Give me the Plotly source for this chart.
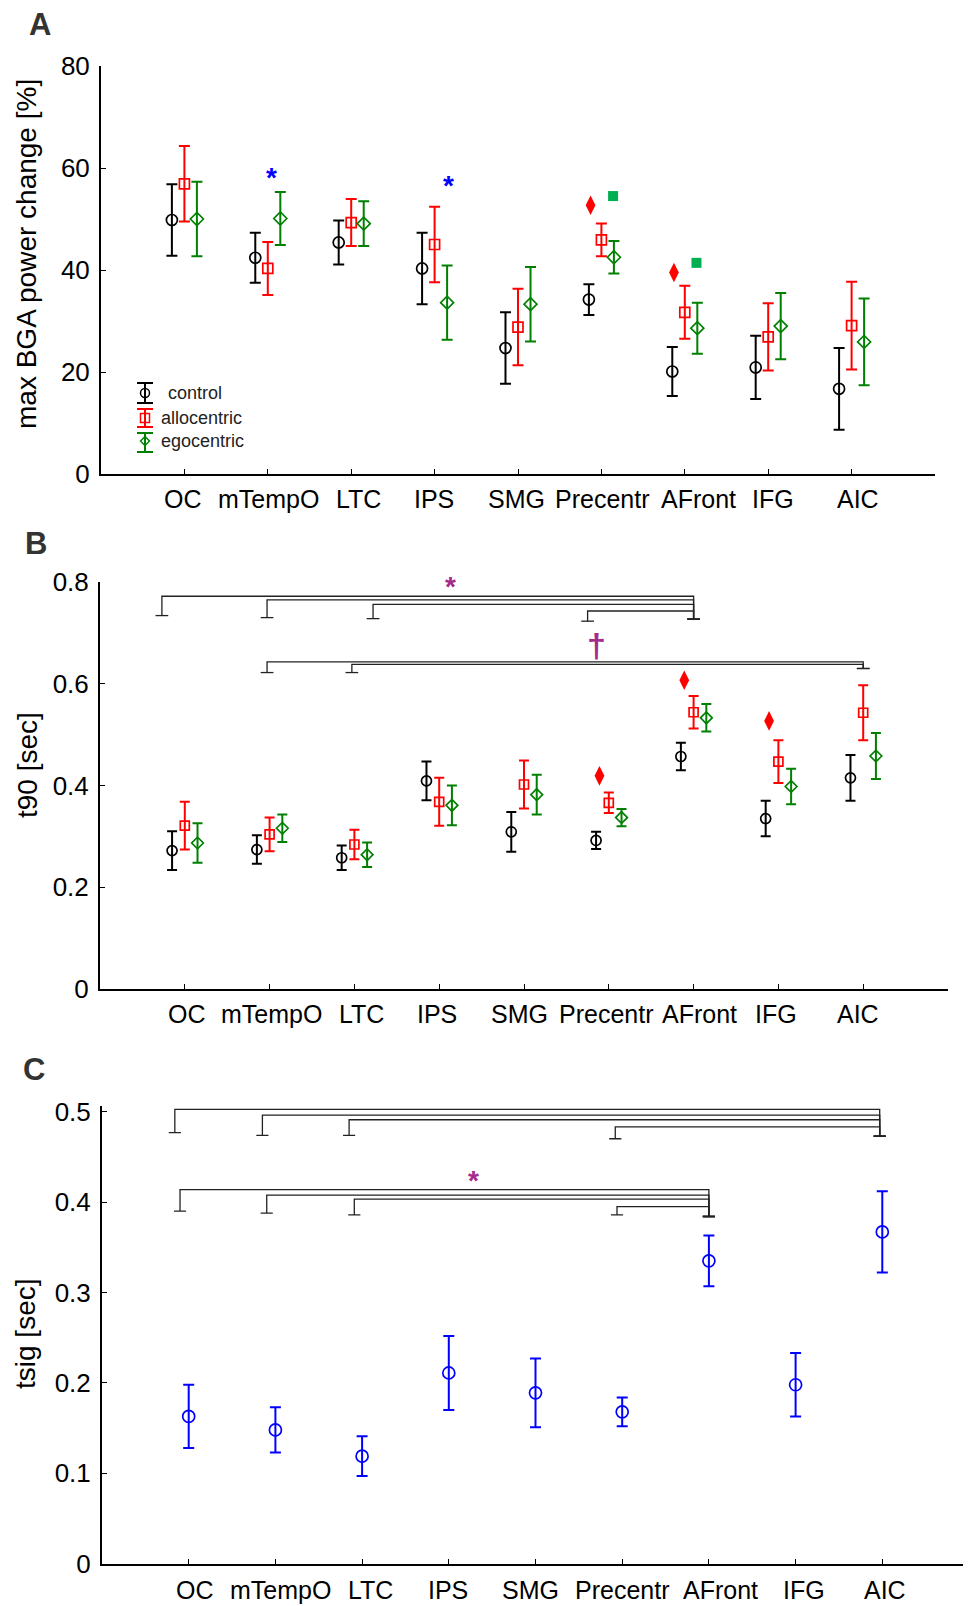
import plotly.graph_objects as go

# ---------------- data ----------------
regions = ["OC", "mTempO", "LTC", "IPS", "SMG", "Precentr", "AFront", "IFG", "AIC"]

# Panel A: max BGA power change [%]
A_control = [49.8, 42.4, 45.4, 40.3, 24.7, 34.2, 20.1, 20.9, 16.7]
A_control_err = [7.0, 4.9, 4.3, 7.0, 7.0, 3.0, 4.8, 6.2, 8.0]
A_allo = [56.9, 40.3, 49.3, 45.0, 28.8, 45.9, 31.7, 26.9, 29.1]
A_allo_err = [7.4, 5.2, 4.6, 7.4, 7.5, 3.2, 5.2, 6.6, 8.6]
A_ego = [50.0, 50.1, 49.1, 33.6, 33.3, 42.5, 28.6, 29.0, 25.9]
A_ego_err = [7.3, 5.2, 4.4, 7.3, 7.3, 3.2, 5.0, 6.5, 8.5]
A_sig_allo_regions = ["Precentr", "AFront"]
A_sig_allo_y = [52.7, 39.5]
A_sig_ego_regions = ["Precentr", "AFront"]
A_sig_ego_y = [54.5, 41.4]
A_star_regions = ["mTempO", "IPS"]
A_star_y = [59.0, 57.3]

# Panel B: t90 [sec]
B_control = [0.272, 0.274, 0.258, 0.409, 0.309, 0.292, 0.457, 0.335, 0.415]
B_control_err = [0.038, 0.028, 0.024, 0.038, 0.039, 0.017, 0.027, 0.035, 0.045]
B_allo = [0.321, 0.304, 0.284, 0.368, 0.402, 0.366, 0.544, 0.447, 0.543]
B_allo_err = [0.047, 0.033, 0.029, 0.047, 0.047, 0.020, 0.032, 0.042, 0.054]
B_ego = [0.287, 0.316, 0.264, 0.361, 0.382, 0.337, 0.533, 0.398, 0.458]
B_ego_err = [0.039, 0.027, 0.024, 0.039, 0.039, 0.017, 0.027, 0.035, 0.045]
B_sig_allo_regions = ["Precentr", "AFront", "IFG"]
B_sig_allo_y = [0.419, 0.607, 0.527]

# Panel B brackets (start regions -> end region)
B_star_starts = ["OC", "mTempO", "LTC", "Precentr"]
B_star_end = "AFront"
B_star_levels = [0.772, 0.765, 0.756, 0.743]
B_star_feet = [0.734, 0.730, 0.728, 0.723]
B_star_end_foot = 0.727
B_star_y = 0.799
B_dag_starts = ["mTempO", "LTC"]
B_dag_end = "AIC"
B_dag_levels = [0.643, 0.638]
B_dag_feet = [0.622, 0.622]
B_dag_end_foot = 0.630
B_dag_y = 0.677

# Panel C: tsig [sec]
C_vals = [0.163, 0.148, 0.119, 0.211, 0.189, 0.168, 0.335, 0.198, 0.367]
C_err = [0.035, 0.025, 0.022, 0.041, 0.038, 0.016, 0.028, 0.035, 0.045]

C_top_starts = ["OC", "mTempO", "LTC", "Precentr"]
C_top_end = "AIC"
C_top_levels = [0.5024, 0.496, 0.491, 0.483]
C_top_feet = [0.4768, 0.4736, 0.4736, 0.470]
C_top_end_foot = 0.4728
C_top_star_y = 0.515
C_low_starts = ["OC", "mTempO", "LTC", "Precentr"]
C_low_end = "AFront"
C_low_levels = [0.4138, 0.4077, 0.4033, 0.395]
C_low_feet = [0.390, 0.3878, 0.3857, 0.3857]
C_low_end_foot = 0.384
C_low_star_y = 0.4277

# ---------------- layout helpers ----------------
W, H = 955, 1606          # page body has an 8px margin
OX, OY = 8, 8
FONT = "Liberation Sans, Arial, sans-serif"
BLACK, RED, GREEN = "#000000", "#FF0000", "#008000"
SIGGREEN = "#00B050"
BLUE = "#0000FF"
MAGENTA = "#A52A8C"
BRK = "#222222"


def px(x):
    return (x - OX) / W


def py(y):
    return 1 - (y - OY) / H


def pos(name):
    return regions.index(name) + 1


xs = list(range(1, len(regions) + 1))
fig = go.Figure()


def cond_trace(vals, errs, color, symbol, off, size, capw, ax, name):
    fig.add_trace(go.Scatter(
        x=[x + off for x in xs], y=vals, mode="markers", name=name,
        xaxis=ax[0], yaxis=ax[1], showlegend=False,
        marker=dict(symbol=symbol, size=size, color=color,
                    line=dict(color=color, width=1.7)),
        error_y=dict(type="data", array=errs, visible=True, color=color,
                     thickness=2, width=capw),
    ))


OFF = 0.15
# Panel A
cond_trace(A_control, A_control_err, BLACK, "circle-open", -OFF, 11, 5.5, ("x", "y"), "control")
cond_trace(A_allo, A_allo_err, RED, "square-open", 0, 10, 5.5, ("x", "y"), "allocentric")
cond_trace(A_ego, A_ego_err, GREEN, "diamond-open", OFF, 10, 5.5, ("x", "y"), "egocentric")
# Panel B
cond_trace(B_control, B_control_err, BLACK, "circle-open", -OFF, 10, 5, ("x2", "y2"), "control")
cond_trace(B_allo, B_allo_err, RED, "square-open", 0, 9, 5, ("x2", "y2"), "allocentric")
cond_trace(B_ego, B_ego_err, GREEN, "diamond-open", OFF, 9, 5, ("x2", "y2"), "egocentric")
# Panel C
cond_trace(C_vals, C_err, BLUE, "circle-open", 0, 12, 5.5, ("x3", "y3"), "tsig")

# significance markers
fig.add_trace(go.Scatter(
    x=[pos(r) - 0.13 for r in A_sig_allo_regions], y=A_sig_allo_y, mode="markers",
    xaxis="x", yaxis="y", showlegend=False,
    marker=dict(symbol="diamond-tall", size=14, color=RED)))
fig.add_trace(go.Scatter(
    x=[pos(r) + 0.14 for r in A_sig_ego_regions], y=A_sig_ego_y, mode="markers",
    xaxis="x", yaxis="y", showlegend=False,
    marker=dict(symbol="square", size=10, color=SIGGREEN)))
fig.add_trace(go.Scatter(
    x=[pos(r) - 0.11 for r in B_sig_allo_regions], y=B_sig_allo_y, mode="markers",
    xaxis="x2", yaxis="y2", showlegend=False,
    marker=dict(symbol="diamond-tall", size=14, color=RED)))


def brackets(starts, end, levels, feet, end_foot, start_offs, end_off, fw, ax):
    xe = pos(end) + end_off
    for s, lv, ft, so in zip(starts, levels, feet, start_offs):
        xs0 = pos(s) + so
        fig.add_trace(go.Scatter(
            x=[xs0 - fw, xs0 + fw, None, xs0, xs0, xe, xe, None, xe - fw, xe + fw],
            y=[ft, ft, None, ft, lv, lv, end_foot, None, end_foot, end_foot],
            mode="lines", line=dict(color=BRK, width=1.3), showlegend=False,
            xaxis=ax[0], yaxis=ax[1], hoverinfo="skip"))


brackets(B_star_starts, B_star_end, B_star_levels, B_star_feet, B_star_end_foot,
         [-0.27, -0.03, 0.22, -0.25], 0.0, 0.075, ("x2", "y2"))
brackets(B_dag_starts, B_dag_end, B_dag_levels, B_dag_feet, B_dag_end_foot,
         [-0.03, -0.03], 0.0, 0.075, ("x2", "y2"))
brackets(C_top_starts, C_top_end, C_top_levels, C_top_feet, C_top_end_foot,
         [-0.16, -0.15, -0.15, -0.08], -0.03, 0.07, ("x3", "y3"))
brackets(C_low_starts, C_low_end, C_low_levels, C_low_feet, C_low_end_foot,
         [-0.10, -0.10, -0.09, -0.06], 0.0, 0.07, ("x3", "y3"))

# ---------------- axes ----------------
tickfont = dict(family=FONT, size=26, color="black")


def xaxis(x0, x1, anchor):
    # x0/x1: pixel positions of x=0 and x=10; clamp to the figure's right edge
    right = min(x1, OX + W)
    rmax = 10.0 * (right - x0) / (x1 - x0)
    return dict(domain=[px(x0), px(right)], anchor=anchor, range=[0, rmax],
                tickvals=xs, showticklabels=False,
                showline=True, linecolor="black", linewidth=2, ticks="inside",
                ticklen=5, tickwidth=1, tickcolor="black", showgrid=False,
                zeroline=False, fixedrange=True, automargin=False)


def yaxis(dom, anchor, rng, dtick):
    return dict(domain=dom, anchor=anchor, range=rng, dtick=dtick, tick0=0,
                showline=True, linecolor="black", linewidth=2, ticks="inside",
                ticklen=5, tickwidth=1, tickcolor="black", showgrid=False,
                zeroline=False, tickfont=tickfont, ticklabelstandoff=4, fixedrange=True,
                automargin=False)


annotations = []


def ann(text, x, y, size, color, xref="paper", yref="paper", angle=0, bold=False,
        xanchor="center", yanchor="middle", yshift=0, xshift=0):
    annotations.append(dict(
        text=("<b>%s</b>" % text) if bold else text, x=x, y=y, xref=xref, yref=yref,
        showarrow=False, textangle=angle, xanchor=xanchor, yanchor=yanchor,
        yshift=yshift, xshift=xshift, font=dict(family=FONT, size=size, color=color)))


# category labels under each x axis (pixel nudges follow the original layout)
label_nudges = {
    "x": ([-1, 1, 7, -1, -2, 1, 14, 5, 6], 499),
    "x2": ([2, 2, 7, -2, -5, -3, 6, -2, -5], 1014),
    "x3": ([6, 5, 8, -1, -5, 0, 12, 8, 3], 1590),
}
for axname, (nudges, ycen) in label_nudges.items():
    for r, dxp in zip(regions, nudges):
        ann(r, pos(r), py(ycen), 25, "black", xref=axname, xshift=dxp)

# panel letters
ann("A", px(40), py(24), 31, "#333333", bold=True)
ann("B", px(36), py(543), 31, "#333333", bold=True)
ann("C", px(34), py(1069), 31, "#333333", bold=True)
# y titles
ann("max BGA power change [%]", px(27), py(254), 28, "black", angle=-90)
ann("t90 [sec]", px(27), py(765), 28, "black", angle=-90)
ann("tsig [sec]", px(25), py(1334), 28, "black", angle=-90)

# asterisks / dagger
for r, yv, dx in zip(A_star_regions, A_star_y, [0.05, 0.17]):
    ann("*", pos(r) + dx, yv, 28, BLUE, "x", "y", yshift=-4, bold=True)
ann("*", pos("IPS") + 0.13, B_star_y, 28, MAGENTA, "x2", "y2", yshift=-4, bold=True)
ann("†", pos("Precentr") - 0.15, B_dag_y, 34, MAGENTA, "x2", "y2", bold=True)
ann("*", pos("SMG") - 0.04, C_top_star_y, 28, MAGENTA, "x3", "y3", yshift=-4, bold=True)
ann("*", pos("IPS") + 0.29, C_low_star_y, 28, MAGENTA, "x3", "y3", yshift=-4, bold=True)

# custom legend (error-bar glyphs) in panel A
shapes = []
legend_items = [("control", BLACK, "circle", 383, 403, 393, 166),
                ("allocentric", RED, "square", 409, 427, 418, 159),
                ("egocentric", GREEN, "diamond", 433, 452, 441, 159)]
gx = 145
for label, col, sym, ytop, ybot, yc, tx in legend_items:
    ln = dict(color=col, width=2)
    shapes.append(dict(type="line", xref="paper", yref="paper", x0=px(gx), x1=px(gx),
                       y0=py(ytop), y1=py(ybot), line=ln))
    for yy in (ytop, ybot):
        shapes.append(dict(type="line", xref="paper", yref="paper", x0=px(gx - 8),
                           x1=px(gx + 8), y0=py(yy), y1=py(yy), line=ln))
    r = 4.5
    mk = dict(color=col, width=1.5)
    if sym == "circle":
        shapes.append(dict(type="circle", xref="paper", yref="paper", x0=px(gx - r),
                           x1=px(gx + r), y0=py(yc - r), y1=py(yc + r), line=mk))
    elif sym == "square":
        shapes.append(dict(type="rect", xref="paper", yref="paper", x0=px(gx - r),
                           x1=px(gx + r), y0=py(yc - r), y1=py(yc + r), line=mk))
    else:
        path = "M %f %f L %f %f L %f %f L %f %f Z" % (
            px(gx), py(yc - r), px(gx + r), py(yc), px(gx), py(yc + r), px(gx - r), py(yc))
        shapes.append(dict(type="path", xref="paper", yref="paper", path=path, line=mk))
    ann(label, px(tx), py(yc), 18, "#222222", xanchor="left")

C_ZERO, C_PER = 1563.8, 904.4   # px of 0 and px per unit in panel C
fig.update_layout(
    template="none",
    width=W, height=H, margin=dict(l=0, r=0, t=0, b=0, pad=0),
    paper_bgcolor="white", plot_bgcolor="white",
    font=dict(family=FONT, color="black"),
    xaxis=xaxis(101, 935, "y"),
    yaxis=yaxis([py(474), py(66)], "x", [0, 80], 20),
    xaxis2=xaxis(100, 948, "y2"),
    yaxis2=yaxis([py(989), py(582)], "x2", [0, 0.8], 0.2),
    xaxis3=xaxis(102, 969, "y3"),
    yaxis3=yaxis([py(C_ZERO), py(C_ZERO - 0.506 * C_PER)], "x3", [0, 0.506], 0.1),
    annotations=annotations, shapes=shapes, showlegend=False,
)

fig.write_html("out.html")
